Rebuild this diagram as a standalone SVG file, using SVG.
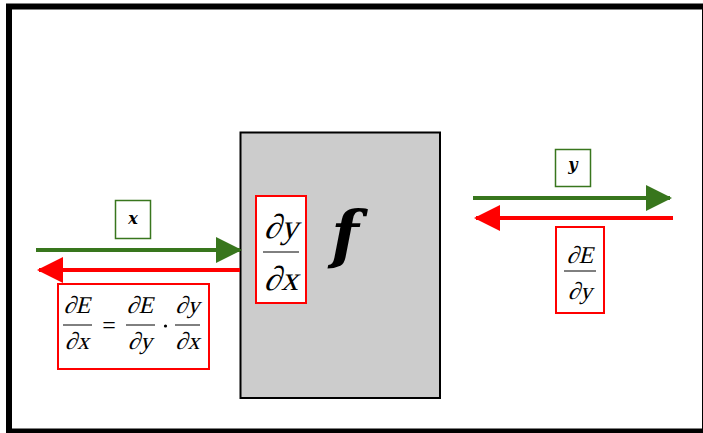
<svg xmlns="http://www.w3.org/2000/svg" width="703" height="433" viewBox="0 0 703 433">
<style>
text{font-family:'Liberation Serif','DejaVu Serif',serif}
.m{fill:#000;text-anchor:middle}
.lab{font-family:'DejaVu Serif',serif;font-style:italic;font-weight:bold;fill:#000;text-anchor:middle}
.gbox{fill:#fff;stroke:#38761d;stroke-width:1.5}
.rbox{fill:#fff;stroke:#ff0000;stroke-width:2}
.bar{stroke:#000;stroke-width:1}
.g{stroke:#38761d;stroke-width:4;fill:none}
.r{stroke:#ff0000;stroke-width:4;fill:none}
</style>
<defs>
<marker id="ag" markerUnits="userSpaceOnUse" markerWidth="26" markerHeight="26" refX="24" refY="13" orient="auto"><path d="M0,0 L26,13 L0,26 Z" fill="#38761d"/></marker>
<marker id="ar" markerUnits="userSpaceOnUse" markerWidth="26" markerHeight="26" refX="24" refY="13" orient="auto"><path d="M0,0 L26,13 L0,26 Z" fill="#ff0000"/></marker>
</defs>
<rect x="0" y="0" width="703" height="433" fill="#fff"/>
<rect x="9" y="6.5" width="696" height="425" fill="#fff" stroke="#000" stroke-width="6"/>
<g id="f-node">
<rect x="240.5" y="132.5" width="199.5" height="265.5" fill="#cccccc" stroke="#000" stroke-width="2"/>
<rect class="rbox" x="256" y="196" width="50" height="107"/>
<text class="m" transform="translate(281,238) skewX(-14)" font-size="34">∂y</text>
<line class="bar" x1="263" y1="252" x2="299" y2="252" stroke-width="1.3"/>
<text class="m" transform="translate(281,290) skewX(-14)" font-size="34">∂x</text>
<text class="lab" x="345" y="256" font-size="64">f</text>
</g>
<g id="connectors">
<line class="g" x1="36" y1="250" x2="240" y2="250" marker-end="url(#ag)"/>
<line class="r" x1="240" y1="270" x2="39" y2="270" marker-end="url(#ar)"/>
<line class="g" x1="473" y1="198" x2="670" y2="198" marker-end="url(#ag)"/>
<line class="r" x1="673" y1="218" x2="476" y2="218" marker-end="url(#ar)"/>
</g>
<g id="x-label">
<rect class="gbox" x="115.5" y="200.5" width="35" height="38"/>
<text class="lab" x="133" y="224" font-size="16">x</text>
</g>
<g id="y-label">
<rect class="gbox" x="555.5" y="149.5" width="35" height="37"/>
<text class="lab" x="573" y="170" font-size="16">y</text>
</g>
<g id="left-grad">
<rect class="rbox" x="58" y="284" width="151" height="85"/>
<text class="m" transform="translate(77,313) skewX(-14)" font-size="24">∂E</text>
<line class="bar" x1="63" y1="325" x2="92" y2="325"/>
<text class="m" transform="translate(77,349) skewX(-14)" font-size="24">∂x</text>
<text x="109" y="333" font-size="24" text-anchor="middle">=</text>
<text class="m" transform="translate(140,313) skewX(-14)" font-size="24">∂E</text>
<line class="bar" x1="126" y1="325" x2="155" y2="325"/>
<text class="m" transform="translate(140,349) skewX(-14)" font-size="24">∂y</text>
<circle cx="165.5" cy="326" r="1.6" fill="#000"/>
<text class="m" transform="translate(187.5,313) skewX(-14)" font-size="24">∂y</text>
<line class="bar" x1="175" y1="325" x2="200" y2="325"/>
<text class="m" transform="translate(187.5,349) skewX(-14)" font-size="24">∂x</text>
</g>
<g id="right-grad">
<rect class="rbox" x="556" y="227" width="48" height="86"/>
<text class="m" transform="translate(580,263) skewX(-14)" font-size="24">∂E</text>
<line class="bar" x1="564" y1="271" x2="596" y2="271"/>
<text class="m" transform="translate(580,299) skewX(-14)" font-size="24">∂y</text>
</g>
</svg>
